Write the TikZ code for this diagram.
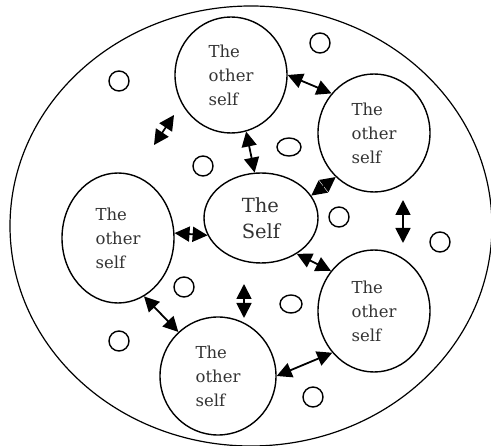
\documentclass[tikz,border=0pt]{standalone}
\usepackage{fontspec}
\setmainfont{DejaVu Serif}
\usetikzlibrary{arrows.meta,shapes.geometric}
\begin{document}
\begin{tikzpicture}[x=1pt, y=-1pt,
    every node/.style={font=\fontsize{16.5}{24}\selectfont, text=black!80},
    selfbox/.style={draw, ellipse, line width=1.4pt, inner sep=0pt, align=left},
    link/.style={{Triangle[length=15pt,width=15pt]}-{Triangle[length=15pt,width=15pt]}, line width=1.8pt}]
    \useasboundingbox (0,0) rectangle (491,446);
    \draw[line width=1.2pt] (251,226) ellipse [x radius=241pt, y radius=220pt];
    \node[selfbox, minimum width=112pt, minimum height=116pt] (top) at (231,75) {The\\other\\self};
    \node[selfbox, minimum width=112pt, minimum height=118pt] (ru) at (374,133) {The\\other\\self};
    \node[selfbox, minimum width=114pt, minimum height=90pt, font=\fontsize{19.5}{26}\selectfont] (self) at (261,218) {The\\Self};
    \node[selfbox, minimum width=112pt, minimum height=130pt] (left) at (118,238) {The\\other\\self};
    \node[selfbox, minimum width=112pt, minimum height=122pt] (rl) at (374,311) {The\\other\\self};
    \node[selfbox, minimum width=116pt, minimum height=118pt] (bottom) at (218,376) {The\\other\\self};
    \foreach \cx/\cy/\rx/\ry in {119/81/10/10, 320/43/10/10, 203/166/10/10, 289/147/12/9, 339/217/10/10,
        440/242/10/10, 184/287/10/10, 291/304/11/9, 119/341/10/10, 313/397/10/10}
        \draw[line width=1.4pt] (\cx,\cy) ellipse [x radius=\rx pt, y radius=\ry pt];
    \coordinate (a1) at (154,145);
    \coordinate (a2) at (174,115);
    \coordinate (e1) at (403,200);
    \coordinate (e2) at (403,243);
    \coordinate (h1) at (244,284);
    \coordinate (h2) at (244,318);
    \draw[link] (a1) -- (a2);
    \draw[link] (e1) -- (e2);
    \draw[link] (h1) -- (h2);
    \draw[link] (top.east) -- (ru.137);
    \draw[link] (top.-75) -- (self.98);
    \draw[link] (self.24) -- (ru.-131);
    \draw[link] (left.5) -- (self.198);
    \draw[link] (self.-45) -- (rl.137);
    \draw[link] (left.-66) -- (bottom.132);
    \draw[link] (bottom.east) -- (rl.225);
\end{tikzpicture}
\end{document}
